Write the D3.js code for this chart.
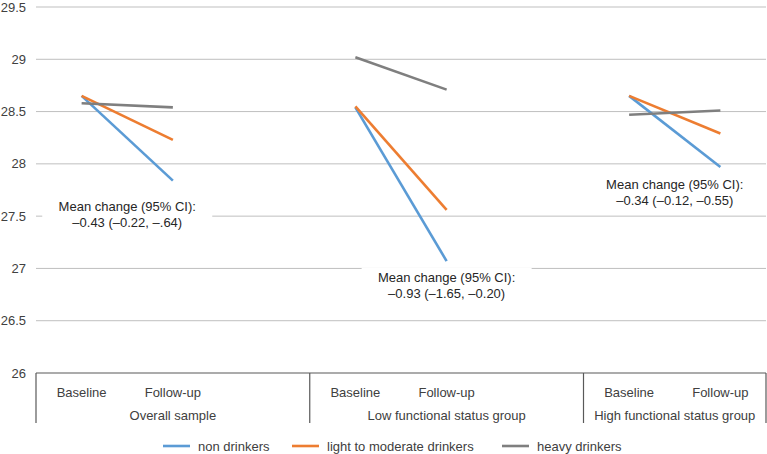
<!DOCTYPE html>
<html>
<head>
<meta charset="utf-8">
<script src="https://cdn.jsdelivr.net/npm/d3@7"></script>
<style>
  html, body { margin: 0; padding: 0; background: #fff; }
  svg { display: block; font-family: "Liberation Sans", Arial, sans-serif; }
</style>
</head>
<body>
<svg id="chart" width="767" height="454"></svg>
<script>
// ---- data ----
const groups = ["Overall sample", "Low functional status group", "High functional status group"];
const categories = [
  {id: "o_b", label: "Baseline", group: 0},
  {id: "o_f", label: "Follow-up", group: 0},
  {id: "o_x", label: "", group: 0},
  {id: "l_b", label: "Baseline", group: 1},
  {id: "l_f", label: "Follow-up", group: 1},
  {id: "l_x", label: "", group: 1},
  {id: "h_b", label: "Baseline", group: 2},
  {id: "h_f", label: "Follow-up", group: 2}
];
const seriesNames = ["non drinkers", "light to moderate drinkers", "heavy drinkers"];
const seriesColors = ["#5B9BD5", "#ED7D31", "#7F7F7F"];
// each series: per group [baseline, follow-up]
const nonDrinkers   = [[28.65, 27.84], [28.54, 27.07], [28.65, 27.97]];
const lightDrinkers = [[28.65, 28.23], [28.55, 27.56], [28.65, 28.29]];
const heavyDrinkers = [[28.58, 28.54], [29.02, 28.71], [28.47, 28.51]];
const yTicks = [26, 26.5, 27, 27.5, 28, 28.5, 29, 29.5];
const annotations = [
  ["Mean change (95% CI):", "\u20130.43 (\u20130.22, \u2013.64)"],
  ["Mean change (95% CI):", "\u20130.93 (\u20131.65, \u20130.20)"],
  ["Mean change (95% CI):", "\u20130.34 (\u20130.12, \u20130.55)"]
];

(function () {
// ---- layout ----
const svg = d3.select("#chart");
const pLeft = 36, pRight = 766, pTop = 7, pBottom = 373;
const x = d3.scaleBand().domain(categories.map(d => d.id)).range([pLeft, pRight]).padding(0);
const y = d3.scaleLinear().domain([26, 29.5]).range([pBottom, pTop]);
const textColor = "#404040";

// gridlines
svg.append("g").selectAll("line").data(yTicks.filter(t => t !== 26)).join("line")
  .attr("x1", pLeft).attr("x2", pRight)
  .attr("y1", d => y(d)).attr("y2", d => y(d))
  .attr("stroke", "#BFBFBF").attr("stroke-width", 1);

// y tick labels
svg.append("g").selectAll("text").data(yTicks).join("text")
  .attr("x", 26).attr("y", d => y(d)).attr("dy", "0.35em")
  .attr("text-anchor", "end").attr("font-size", 13).attr("fill", textColor)
  .text(d => d);

// x axis
const axisColor = "#595959";
svg.append("line").attr("x1", pLeft).attr("x2", pRight).attr("y1", pBottom).attr("y2", pBottom)
  .attr("stroke", axisColor).attr("stroke-width", 1.2);
const groupBounds = groups.map((g, gi) => {
  const cats = categories.filter(c => c.group === gi);
  const x0 = x(cats[0].id), x1 = x(cats[cats.length - 1].id) + x.bandwidth();
  return [x0, x1];
});
const seps = [groupBounds[0][0], ...groupBounds.map(b => b[1])];
svg.append("g").selectAll("line").data(seps).join("line")
  .attr("x1", d => d).attr("x2", d => d).attr("y1", pBottom).attr("y2", pBottom + 50)
  .attr("stroke", axisColor).attr("stroke-width", 1.2);
svg.append("g").selectAll("text").data(categories.filter(c => c.label)).join("text")
  .attr("x", d => x(d.id) + x.bandwidth() / 2).attr("y", pBottom + 19).attr("dy", "0.35em")
  .attr("text-anchor", "middle").attr("font-size", 13).attr("fill", textColor)
  .text(d => d.label);
svg.append("g").selectAll("text").data(groups).join("text")
  .attr("x", (d, i) => (groupBounds[i][0] + groupBounds[i][1]) / 2).attr("y", pBottom + 42).attr("dy", "0.35em")
  .attr("text-anchor", "middle").attr("font-size", 13).attr("fill", textColor)
  .text(d => d);

// series lines
const allSeries = [nonDrinkers, lightDrinkers, heavyDrinkers];
const line = d3.line().x(d => d[0]).y(d => y(d[1]));
allSeries.forEach((ser, si) => {
  ser.forEach((pair, gi) => {
    const cats = categories.filter(c => c.group === gi);
    const pts = pair.map((v, k) => [x(cats[k].id) + x.bandwidth() / 2, v]);
    svg.append("path").attr("d", line(pts)).attr("fill", "none")
      .attr("stroke", seriesColors[si]).attr("stroke-width", 2.6);
  });
});

// annotations
const annPlace = [
  {cx: (x("o_b") + x("o_f")) / 2 + x.bandwidth() / 2, cy: y(27.52)},
  {cx: x("l_f") + x.bandwidth() / 2, cy: y(26.835)},
  {cx: (x("h_b") + x("h_f")) / 2 + x.bandwidth() / 2, cy: y(27.725)}
];
annotations.forEach((lines, i) => {
  const p = annPlace[i];
  const g = svg.append("g");
  const rect = g.append("rect").attr("fill", "#fff");
  g.selectAll("text").data(lines).join("text")
    .attr("x", p.cx).attr("y", (d, k) => p.cy + (k - 0.5) * 16).attr("dy", "0.35em")
    .attr("text-anchor", "middle").attr("font-size", 13).attr("fill", "#262626")
    .text(d => d);
  const w = 170;
  rect.attr("x", p.cx - w / 2).attr("y", p.cy - 18).attr("width", w).attr("height", 36);
});

// legend
const legendX = [163, 292, 502];
const lg = svg.append("g");
seriesNames.forEach((n, i) => {
  lg.append("line").attr("x1", legendX[i]).attr("x2", legendX[i] + 27)
    .attr("y1", 446).attr("y2", 446).attr("stroke", seriesColors[i]).attr("stroke-width", 2.6);
  lg.append("text").attr("x", legendX[i] + 35).attr("y", 446).attr("dy", "0.35em")
    .attr("font-size", 13).attr("fill", textColor).text(n);
});
})();
</script>
</body>
</html>
